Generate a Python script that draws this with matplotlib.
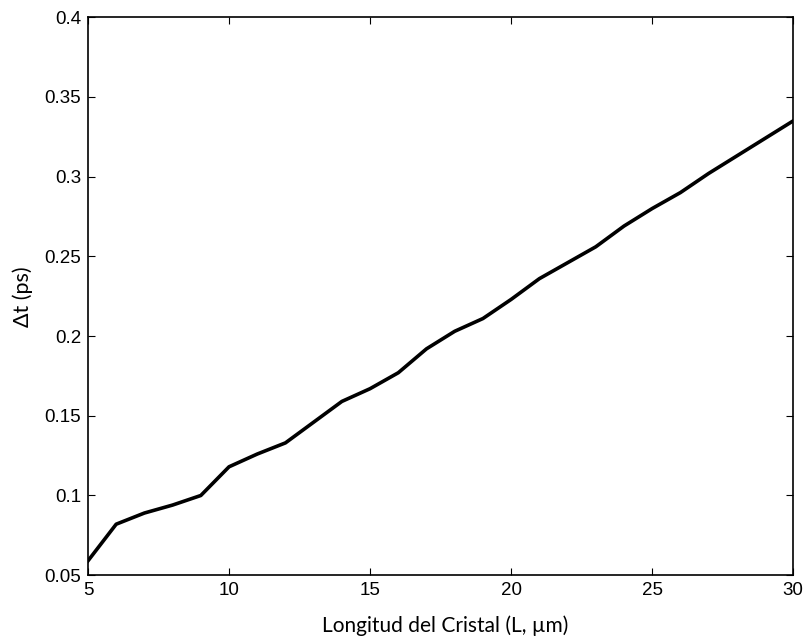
import matplotlib
matplotlib.use("Agg")
import matplotlib.pyplot as plt
from matplotlib.ticker import FuncFormatter

plt.rcParams['font.family'] = ['Liberation Sans', 'DejaVu Sans']

longitud = list(range(5, 31))
delta_t = [0.059, 0.082, 0.089, 0.094, 0.100, 0.118, 0.126, 0.133, 0.146, 0.159,
           0.167, 0.177, 0.192, 0.203, 0.211, 0.223, 0.236, 0.246, 0.256, 0.269,
           0.280, 0.290, 0.302, 0.313, 0.324, 0.335]

x_ticks = [5, 10, 15, 20, 25, 30]
y_ticks = [0.05, 0.1, 0.15, 0.2, 0.25, 0.3, 0.35, 0.4]

fig = plt.figure(figsize=(8.07, 6.37), dpi=100)
ax = fig.add_axes([0.109, 0.097, 0.874, 0.876])
ax.plot(longitud, delta_t, color="black", linewidth=2.6)

ax.set_xlim(5, 30)
ax.set_ylim(0.05, 0.4)
ax.set_xticks(x_ticks)
ax.set_yticks(y_ticks)
ax.yaxis.set_major_formatter(FuncFormatter(lambda v, p: "%g" % round(v, 3)))
ax.tick_params(direction="in", top=True, right=True, labelsize=13.5, length=5, pad=5)
for s in ax.spines.values():
    s.set_linewidth(1.2)

# etiquetas de los ejes
ax.set_xlabel("Longitud del Cristal (L, µm)", fontsize=15, family=["Lato", "DejaVu Sans"])
ax.set_ylabel("Δt (ps)", fontsize=15.5, family=["Lato", "DejaVu Sans"])
ax.xaxis.set_label_coords(0.507, -0.072)
ax.yaxis.set_label_coords(-0.078, 0.5)

fig.savefig("out.png", dpi=100)
